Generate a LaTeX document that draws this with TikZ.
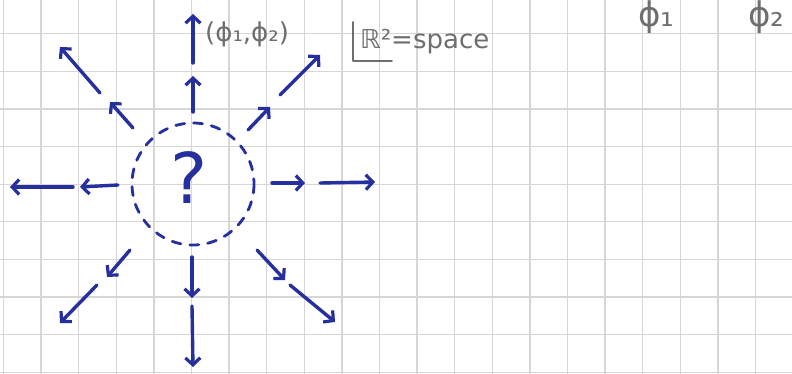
\documentclass[tikz,border=0pt]{standalone}
\usepackage{fontspec}
\setmainfont{DejaVu Sans}
\usetikzlibrary{arrows.meta}
\definecolor{ink}{HTML}{25309E}
\definecolor{pencil}{HTML}{6E6E6E}
\definecolor{gridc}{HTML}{D6D6D6}
\begin{document}
\begin{tikzpicture}[x=1pt,y=-1pt,
  arr/.style={draw=ink, line width=3.4pt, line cap=round,
    -{Straight Barb[length=7pt,width=15pt,line width=3.2pt]}},
  gridline/.style={draw=gridc, line width=1.3pt},
  pencilline/.style={draw=pencil, line width=1.8pt, line cap=round, line join=round},
  txt/.style={text=pencil, inner sep=0pt, font=\fontsize{26}{26}\selectfont},
  bigtxt/.style={text=pencil, inner sep=0pt, font=\fontsize{34}{34}\selectfont},
  qmark/.style={text=ink, inner sep=0pt, font=\fontsize{70}{70}\selectfont},
  ring/.style={draw=ink, line width=2.8pt, dash pattern=on 9pt off 9pt, line cap=round}]
\fill[white] (0,0) rectangle (792,374);
\useasboundingbox (0,0) rectangle (792,374);
% grid
\foreach \k in {0,...,21} \draw[gridline] ({3.5+37.6*\k},0) -- ({3.5+37.6*\k},374);
\foreach \k in {1,...,10} \draw[gridline] (0,{-3.8+37.6*\k}) -- (792,{-3.8+37.6*\k});
% centre
\coordinate (c) at (193,184);
\draw[ring] (c) circle[radius=61];
\node[qmark] (q) at (189,178) {?};
% arrow end points
\coordinate (u1a) at (193,112); \coordinate (u1b) at (193,76);
\coordinate (u2a) at (193,63);  \coordinate (u2b) at (193,14);
\coordinate (ul1a) at (133,128); \coordinate (ul1b) at (110,102);
\coordinate (ul2a) at (100,93);  \coordinate (ul2b) at (60,47);
\coordinate (ur1a) at (248,130); \coordinate (ur1b) at (270,107);
\coordinate (ur2a) at (280,95);  \coordinate (ur2b) at (320,55);
\coordinate (l1a) at (118,185); \coordinate (l1b) at (80,187);
\coordinate (l2a) at (73,187);  \coordinate (l2b) at (10,187);
\coordinate (r1a) at (272,183); \coordinate (r1b) at (305,183);
\coordinate (r2a) at (320,183); \coordinate (r2b) at (375,182);
\coordinate (dl1a) at (130,250); \coordinate (dl1b) at (107,277);
\coordinate (dl2a) at (97,285);  \coordinate (dl2b) at (60,323);
\coordinate (d1a) at (192,257); \coordinate (d1b) at (192,298);
\coordinate (d2a) at (192,306); \coordinate (d2b) at (193,367);
\coordinate (dr1a) at (257,250); \coordinate (dr1b) at (285,280);
\coordinate (dr2a) at (290,285); \coordinate (dr2b) at (335,322);
\foreach \a in {u1,u2,ul1,ul2,ur1,ur2,l1,l2,r1,r2,dl1,dl2,d1,d2,dr1,dr2}
  \draw[arr] (\a a) -- (\a b);
% labels
\node[txt, anchor=base west] (phis) at (205,42) {(ϕ₁,ϕ₂)};
\node[txt, anchor=base west] (space) at (360,49) {ℝ²=space};
\draw[pencilline] (353,22) -- (353,61) -- (392,61);
\node[bigtxt, anchor=base west] (p1) at (638,27) {ϕ₁};
\node[bigtxt, anchor=base west] (p2) at (748,27) {ϕ₂};
\end{tikzpicture}
\end{document}
